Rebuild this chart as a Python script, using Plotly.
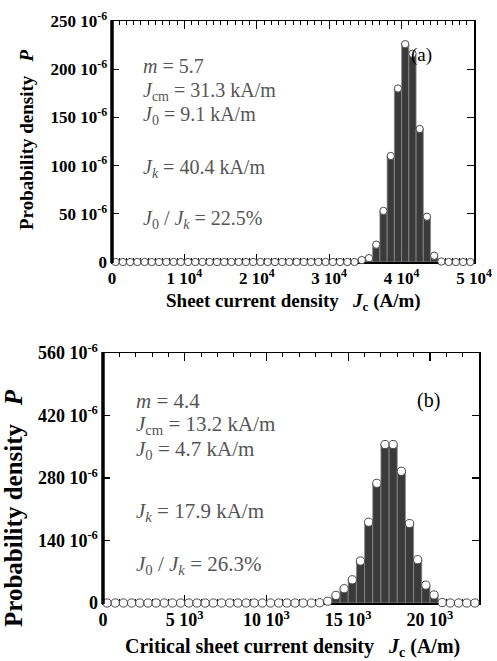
import numpy as np
import plotly.graph_objects as go

W, H = 497, 661

# ---------------- data ----------------
# Panel (a): bin centres start at 500 A/m, bin width 1000 A/m, 50 bins
a_bin_start = 500
a_bin_width = 1000
a_P_micro = [0, 0, 0, 0, 0, 0, 0, 0, 0, 0,
             0, 0, 0, 0, 0, 0, 0, 0, 0, 0,
             0, 0, 0, 0, 0, 0, 0, 0, 0, 0,
             0, 0, 0, 0, 2, 4, 18, 53, 110, 180,
             226, 216, 138, 47, 6.5, 0.5, 0, 0, 0, 0]
a_xticks = [0, 10000, 20000, 30000, 40000, 50000]
a_xticktext = ["0", "1 10<sup>4</sup>", "2 10<sup>4</sup>", "3 10<sup>4</sup>",
               "4 10<sup>4</sup>", "5 10<sup>4</sup>"]
a_yticks = [0, 50, 100, 150, 200, 250]
a_yticktext = ["0", "50 10<sup>-6</sup>", "100 10<sup>-6</sup>", "150 10<sup>-6</sup>",
               "200 10<sup>-6</sup>", "250 10<sup>-6</sup>"]

# Panel (b): bin centres start at 250 A/m, bin width 500 A/m, 46 bins
b_bin_start = 250
b_bin_width = 500
b_P_micro = [0, 0, 0, 0, 0, 0, 0, 0, 0, 0,
             0, 0, 0, 0, 0, 0, 0, 0, 0, 0,
             0, 0, 0, 0, 0, 0, 0.5, 4, 17, 32,
             52, 94, 181, 268, 355, 355, 295, 178, 97, 40,
             18, 1, 0, 0, 0, 0]
b_xticks = [0, 5000, 10000, 15000, 20000]
b_xticktext = ["0", "5 10<sup>3</sup>", "10 10<sup>3</sup>", "15 10<sup>3</sup>",
               "20 10<sup>3</sup>"]
b_yticks = [0, 140, 280, 420, 560]
b_yticktext = ["0", "140 10<sup>-6</sup>", "280 10<sup>-6</sup>", "420 10<sup>-6</sup>",
               "560 10<sup>-6</sup>"]

a_text = ["<i>m</i> = 5.7",
          "<i>J</i><sub>cm</sub> = 31.3 kA/m",
          "<i>J</i><sub>0</sub> = 9.1 kA/m",
          "<i>J<sub>k</sub></i> = 40.4 kA/m",
          "<i>J</i><sub>0</sub> / <i>J<sub>k</sub></i> = 22.5%"]
b_text = ["<i>m</i> = 4.4",
          "<i>J</i><sub>cm</sub> = 13.2 kA/m",
          "<i>J</i><sub>0</sub> = 4.7 kA/m",
          "<i>J<sub>k</sub></i> = 17.9 kA/m",
          "<i>J</i><sub>0</sub> / <i>J<sub>k</sub></i> = 26.3%"]

# ---------------- helpers ----------------
def fx(px):
    return px / W

def fy(py):
    return 1 - py / H

SERIF = "Liberation Serif, Times New Roman, serif"
BAR_COL = "#3a3a3a"
TXT_COL = "#555555"

xa = a_bin_start + a_bin_width * np.arange(len(a_P_micro))
xb = b_bin_start + b_bin_width * np.arange(len(b_P_micro))

fig = go.Figure()

for xs, ps, bw, xax, yax, msize in [(xa, a_P_micro, a_bin_width, "x", "y", 7.3),
                                    (xb, b_P_micro, b_bin_width, "x2", "y2", 8.2)]:
    fig.add_trace(go.Bar(x=xs, y=ps, width=bw, xaxis=xax, yaxis=yax,
                         marker=dict(color=BAR_COL, line=dict(color="#8a8a8a", width=0.8)),
                         showlegend=False, hoverinfo="skip"))
    fig.add_trace(go.Scatter(x=xs, y=ps, mode="markers", xaxis=xax, yaxis=yax,
                             cliponaxis=False,
                             marker=dict(symbol="circle", size=msize, color="white",
                                         line=dict(color="#4a4a4a", width=1)),
                             showlegend=False, hoverinfo="skip"))

def tfont(size):
    return dict(family=SERIF, size=size, color="black", weight="bold")

def xaxis_cfg(dom, rng, tv, tt, minor_dt, fs):
    return dict(domain=dom, range=rng, tickvals=tv, ticktext=tt,
                showline=True, linecolor="black", linewidth=1.5, mirror="ticks",
                ticks="inside", ticklen=8, tickwidth=1.2, tickcolor="black",
                minor=dict(ticks="inside", dtick=minor_dt, ticklen=4, tickwidth=1,
                           tickcolor="black"),
                showgrid=False, zeroline=False, tickfont=tfont(fs),
                layer="below traces", fixedrange=True, automargin=False)

def yaxis_cfg(dom, rng, tv, tt, fs):
    return dict(domain=dom, range=rng, tickvals=tv, ticktext=tt,
                showline=True, linecolor="black", linewidth=1.5, mirror="ticks",
                ticks="inside", ticklen=7, tickwidth=1.2, tickcolor="black",
                showgrid=False, zeroline=False, tickfont=tfont(fs),
                layer="below traces", fixedrange=True, automargin=False)

# pixel geometry of the two plot areas
A_L, A_R, A_T, A_B = 112, 474, 21, 262
B_L, B_R, B_T, B_B = 103, 479, 353, 603

fig.update_layout(
    template="none",
    width=W, height=H,
    margin=dict(l=0, r=0, t=0, b=0, pad=0),
    paper_bgcolor="white", plot_bgcolor="white",
    bargap=0, showlegend=False,
    xaxis=dict(xaxis_cfg([fx(A_L), fx(A_R)], [0, 50000], a_xticks, a_xticktext, 1000, 17), anchor="y"),
    yaxis=dict(yaxis_cfg([fy(A_B), fy(A_T)], [0, 250], a_yticks, a_yticktext, 17), anchor="x"),
    xaxis2=dict(xaxis_cfg([fx(B_L), fx(B_R)], [0, 23000], b_xticks, b_xticktext, 1000, 18), anchor="y2"),
    yaxis2=dict(yaxis_cfg([fy(B_B), fy(B_T)], [0, 560], b_yticks, b_yticktext, 18), anchor="x2"),
)

shapes = []
for L, T, B in [(A_L, A_T, A_B), (B_L, B_T, B_B)]:
    shapes.append(dict(type="line", xref="paper", yref="paper",
                       x0=fx(L), x1=fx(L), y0=fy(B + 1), y1=fy(T - 1),
                       line=dict(color="black", width=3.5)))
fig.update_layout(shapes=shapes)

def note(x, y, text, size, color="black", xanchor="center", angle=0, bold=False):
    f = dict(family=SERIF, size=size, color=color)
    if bold:
        f["weight"] = "bold"
    return dict(x=fx(x), y=fy(y), xref="paper", yref="paper", text=text,
                showarrow=False, xanchor=xanchor, yanchor="middle", textangle=angle,
                font=f)

ann = []
a_lines_y = [66, 91, 116, 168, 219]
b_lines_y = [401, 425, 450, 512, 565]
for txt, yy in zip(a_text, a_lines_y):
    ann.append(note(141, yy, txt, 20, TXT_COL, "left"))
for txt, yy in zip(b_text, b_lines_y):
    ann.append(note(134, yy, txt, 21, TXT_COL, "left"))
ann.append(note(421, 55, "(a)", 19))
ann.append(note(428, 400, "(b)", 20))
ann.append(note(27, 140, "Probability density &nbsp;&nbsp;<i>P</i>", 19, angle=-90, bold=True))
ann.append(note(13, 508, "Probability density &nbsp;&nbsp;<i>P</i>", 25, angle=-90, bold=True))
ann.append(note(293, 302, "Sheet current density &nbsp;&nbsp;<i>J</i><sub>c</sub> (A/m)", 19, bold=True))
ann.append(note(292, 647, "Critical sheet current density &nbsp;&nbsp;<i>J</i><sub>c</sub> (A/m)", 20, bold=True))
fig.update_layout(annotations=ann)

fig.write_html("out.html",
               config={"displayModeBar": False, "staticPlot": True},
               post_script="document.body.style.margin='0';document.body.style.overflow='hidden';")
